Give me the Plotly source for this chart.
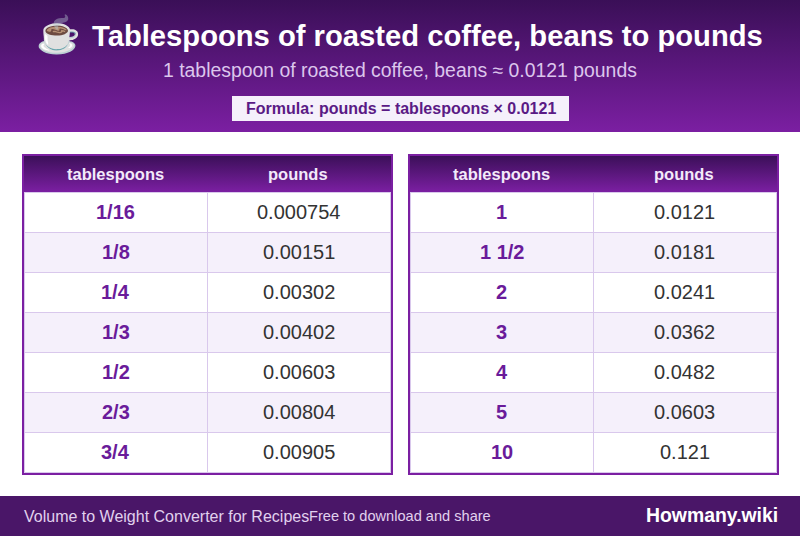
import plotly.graph_objects as go

TITLE = "Tablespoons of roasted coffee, beans to pounds"
SUBTITLE = "1 tablespoon of roasted coffee, beans ≈ 0.0121 pounds"
FORMULA = "Formula: pounds = tablespoons × 0.0121"
FOOT_A = "Volume to Weight Converter for Recipes"
FOOT_B = "Free to download and share"
BRAND = "Howmany.wiki"
HEADERS = ["tablespoons", "pounds"]
LEFT_TBSP = ["1/16", "1/8", "1/4", "1/3", "1/2", "2/3", "3/4"]
LEFT_LB = ["0.000754", "0.00151", "0.00302", "0.00402", "0.00603", "0.00804", "0.00905"]
RIGHT_TBSP = ["1", "1 1/2", "2", "3", "4", "5", "10"]
RIGHT_LB = ["0.0121", "0.0181", "0.0241", "0.0362", "0.0482", "0.0603", "0.121"]

W, H = 800, 536
FONT = "Liberation Sans"
PURPLE = "#6a1b9a"
BORDER = "#7b1fa2"
GRAD = [[0, "#3a0f57"], [1, "#7b1fa2"]]
LINE = "#d9c8ec"
ALT = "#f5f0fb"
ROW_H = 40
TOP = 192

fig = go.Figure()
shapes = [dict(type="rect", x0=0, x1=W, y0=496, y1=H, fillcolor="#4a1668", line_width=0, layer="below")]


def txt(x, y, s, size, color, anchor="center"):
    return dict(x=x, y=y, text=s, xref="x", yref="y", showarrow=False, xanchor=anchor, yanchor="middle",
                font=dict(family=FONT, size=size, color=color))


ann = [
    txt(58, 34, "☕", 36, "#ffffff"),
    txt(427.5, 36, "<b>%s</b>" % TITLE, 29.2, "#ffffff"),
    txt(400, 70, SUBTITLE, 19.4, "#dcc6ec"),
    txt(401, 108, "<b>%s</b>" % FORMULA, 16, "#5a1a85"),
    txt(22, 516, FOOT_A, 16, "#e1d1ee", "left"),
    txt(307, 516, FOOT_B, 14.6, "#e1d1ee", "left"),
    txt(780, 515, "<b>%s</b>" % BRAND, 19.4, "#ffffff", "right"),
]


def grad_rect(x0, x1, y0, y1):
    fig.add_trace(go.Scatter(
        x=[x0, x1, x1, x0, x0], y=[y0, y0, y1, y1, y0], mode="lines", line_width=0,
        fill="toself", hoverinfo="skip", showlegend=False,
        fillgradient=dict(type="vertical", colorscale=GRAD, start=y0, stop=y1),
    ))


grad_rect(0, W, 0, 132)


def table(x0, tbsp, lb):
    left, right = x0 + 2.5, x0 + 368.5
    split = x0 + 185.5
    grad_rect(x0 + 1, x0 + 370, 155, TOP)
    n = len(tbsp)
    bottom = TOP + n * ROW_H + 0.5
    for i in range(n):
        y = TOP + i * ROW_H
        if i % 2:
            shapes.append(dict(type="rect", x0=left, x1=right, y0=y + 0.5, y1=y + ROW_H + 0.5,
                               fillcolor=ALT, line_width=0, layer="above"))
        ann.append(txt(x0 + 93.5, y + 20, "<b>%s</b>" % tbsp[i], 20, PURPLE))
        ann.append(txt(x0 + 276.5, y + 20, lb[i], 20, "#333333"))
    for i in range(n + 1):
        y = TOP + i * ROW_H + 0.5
        shapes.append(dict(type="line", x0=left, x1=right, y0=y, y1=y, line=dict(color=LINE, width=1), layer="above"))
    for x in (left, split, right):
        shapes.append(dict(type="line", x0=x, x1=x, y0=TOP, y1=bottom, line=dict(color=LINE, width=1), layer="above"))
    shapes.append(dict(type="rect", x0=x0 + 1, x1=x0 + 370, y0=155, y1=474,
                       line=dict(color=BORDER, width=2), layer="above"))
    ann.append(txt(x0 + 93.5, 174, "<b>%s</b>" % HEADERS[0], 16.5, "#f3e9fa"))
    ann.append(txt(x0 + 275.5, 174, "<b>%s</b>" % HEADERS[1], 16.5, "#f3e9fa"))


table(22, LEFT_TBSP, LEFT_LB)
table(408, RIGHT_TBSP, RIGHT_LB)

shapes.append(dict(type="rect", x0=232, x1=569, y0=96, y1=121, fillcolor=ALT, line_width=0, layer="above"))

fig.update_layout(
    width=W, height=H, margin=dict(l=0, r=0, t=0, b=0), paper_bgcolor="#ffffff", plot_bgcolor="#ffffff",
    xaxis=dict(range=[0, W], visible=False, fixedrange=True),
    yaxis=dict(range=[H, 0], visible=False, fixedrange=True),
    shapes=shapes, annotations=ann, showlegend=False,
)
fig.write_html("out.html", config=dict(displayModeBar=False),
               post_script="document.body.style.margin='0';")
